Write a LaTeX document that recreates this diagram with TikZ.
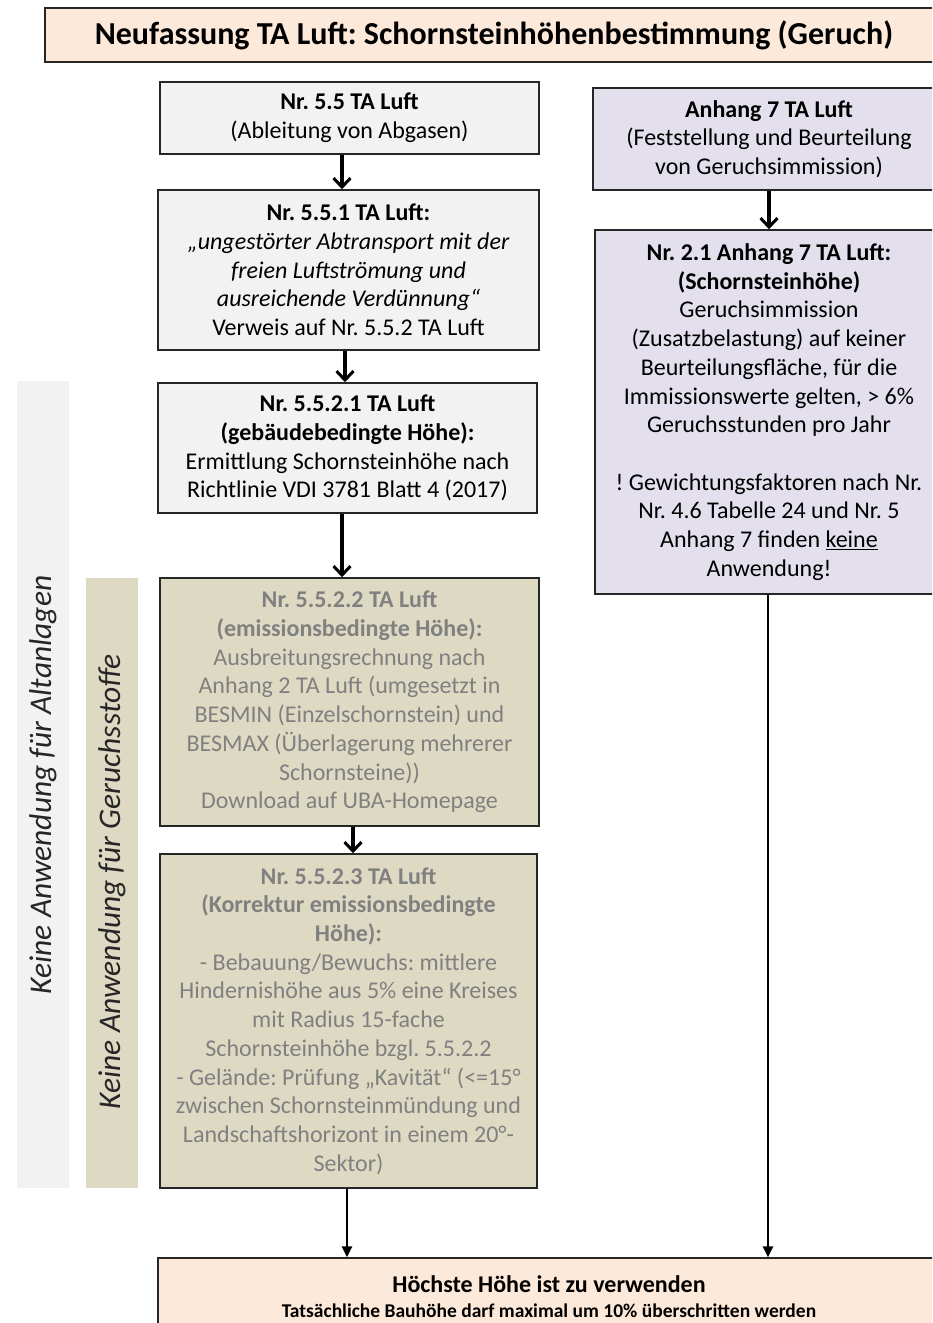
\documentclass[tikz,border=0pt]{standalone}
\usepackage{fontspec}
\setmainfont{Carlito}
\usetikzlibrary{arrows.meta}
\definecolor{boxgray}{HTML}{F2F2F2}
\definecolor{boxtan}{HTML}{DDD9C3}
\definecolor{boxlav}{HTML}{E4DFEC}
\definecolor{boxpeach}{HTML}{FDE9D9}
\definecolor{txtgray}{HTML}{808080}
\frenchspacing
\begin{document}
\begin{tikzpicture}[x=1pt,y=-1pt,
  box/.style={draw=black!85,line width=1.5pt,align=center,inner sep=0pt,
    font=\fontsize{24}{28.7}\selectfont},
  graybox/.style={box,fill=boxgray},
  tanbox/.style={box,fill=boxtan,text=txtgray},
  lavbox/.style={box,fill=boxlav},
  peachbox/.style={box,fill=boxpeach},
  band/.style={inner sep=0pt,font=\fontsize{31.5}{34}\selectfont\itshape,text=black!85},
  sarrow/.style={line width=3.2pt,-{Straight Barb[length=9pt,width=17pt,line width=3pt]}},
  larrow/.style={line width=2.6pt,-{Triangle[length=11pt,width=10pt]}}]
\useasboundingbox (0,0) rectangle (932,1323);
\clip (0,0) rectangle (932,1323);
% side bands
\fill[boxgray] (17,381) rectangle (69,1188);
\fill[boxtan] (86,578) rectangle (138,1188);
\node[band,rotate=90] (bandA) at (43,785) {Keine Anwendung für Altanlagen};
\node[band,rotate=90] (bandB) at (112,882) {Keine Anwendung für Geruchsstoffe};
% title
\node[peachbox,minimum width=898pt,minimum height=54pt,font=\fontsize{32}{36}\selectfont\bfseries] (title) at (494,35) {Neufassung TA Luft: Schornsteinhöhenbestimmung (Geruch)};
% left column
\node[graybox,minimum width=379pt,minimum height=72pt] (A) at (349.5,118)
  {\textbf{Nr. 5.5 TA Luft}\\(Ableitung von Abgasen)};
\node[graybox,minimum width=381pt,minimum height=160pt] (B) at (348.5,270)
  {\textbf{Nr. 5.5.1 TA Luft:}\\\itshape „ungestörter Abtransport mit der\\\itshape freien Luftströmung und\\\itshape ausreichende Verdünnung“\\Verweis auf Nr. 5.5.2 TA Luft};
\node[graybox,minimum width=379pt,minimum height=130pt] (C) at (347.5,448)
  {\textbf{Nr. 5.5.2.1 TA Luft}\\\textbf{(gebäudebedingte Höhe):}\\Ermittlung Schornsteinhöhe nach\\Richtlinie VDI 3781 Blatt 4 (2017)};
\node[tanbox,minimum width=379pt,minimum height=248pt] (D) at (349.5,702)
  {\textbf{Nr. 5.5.2.2 TA Luft}\\\textbf{(emissionsbedingte Höhe):}\\Ausbreitungsrechnung nach\\Anhang 2 TA Luft (umgesetzt in\\BESMIN (Einzelschornstein) und\\BESMAX (Überlagerung mehrerer\\Schornsteine))\\Download auf UBA-Homepage};
\node[tanbox,minimum width=377pt,minimum height=334pt] (E) at (348.5,1021)
  {\textbf{Nr. 5.5.2.3 TA Luft}\\\textbf{(Korrektur emissionsbedingte}\\\textbf{Höhe):}\\- Bebauung/Bewuchs: mittlere\\Hindernishöhe aus 5\% eine Kreises\\mit Radius 15-fache\\Schornsteinhöhe bzgl. 5.5.2.2\\- Gelände: Prüfung „Kavität“ (<=15°\\zwischen Schornsteinmündung und\\Landschaftshorizont in einem 20°-\\Sektor)};
% right column
\node[lavbox,minimum width=352pt,minimum height=102pt] (P1) at (769,139)
  {\textbf{Anhang 7 TA Luft}\\(Feststellung und Beurteilung\\von Geruchsimmission)};
\node[lavbox,minimum width=348pt,minimum height=364pt] (P2) at (769,412)
  {\textbf{Nr. 2.1 Anhang 7 TA Luft:}\\\textbf{(Schornsteinhöhe)}\\Geruchsimmission\\(Zusatzbelastung) auf keiner\\Beurteilungsfläche, für die\\Immissionswerte gelten, > 6\%\\Geruchsstunden pro Jahr\\[28.7pt]! Gewichtungsfaktoren nach Nr.\\Nr. 4.6 Tabelle 24 und Nr. 5\\Anhang 7 finden \underline{keine}\\Anwendung!};
% bottom
\node[peachbox,minimum width=782pt,minimum height=77pt] (F) at (549,1296.5)
  {\textbf{Höchste Höhe ist zu verwenden}\\[-4pt]{\fontsize{19.5}{22}\selectfont\bfseries Tatsächliche Bauhöhe darf maximal um 10\% überschritten werden}};
% connectors
\draw[sarrow] (342,0 |- A.south) -- (342,0 |- B.north);
\draw[sarrow] (345,0 |- B.south) -- (345,0 |- C.north);
\draw[sarrow] (342,0 |- C.south) -- (342,0 |- D.north);
\draw[sarrow] (353,0 |- D.south) -- (353,0 |- E.north);
\draw[sarrow] (769,0 |- P1.south) -- (769,0 |- P2.north);
\draw[larrow] (347,0 |- E.south) -- (347,0 |- F.north);
\draw[larrow] (768,0 |- P2.south) -- (768,0 |- F.north);
\end{tikzpicture}
\end{document}
